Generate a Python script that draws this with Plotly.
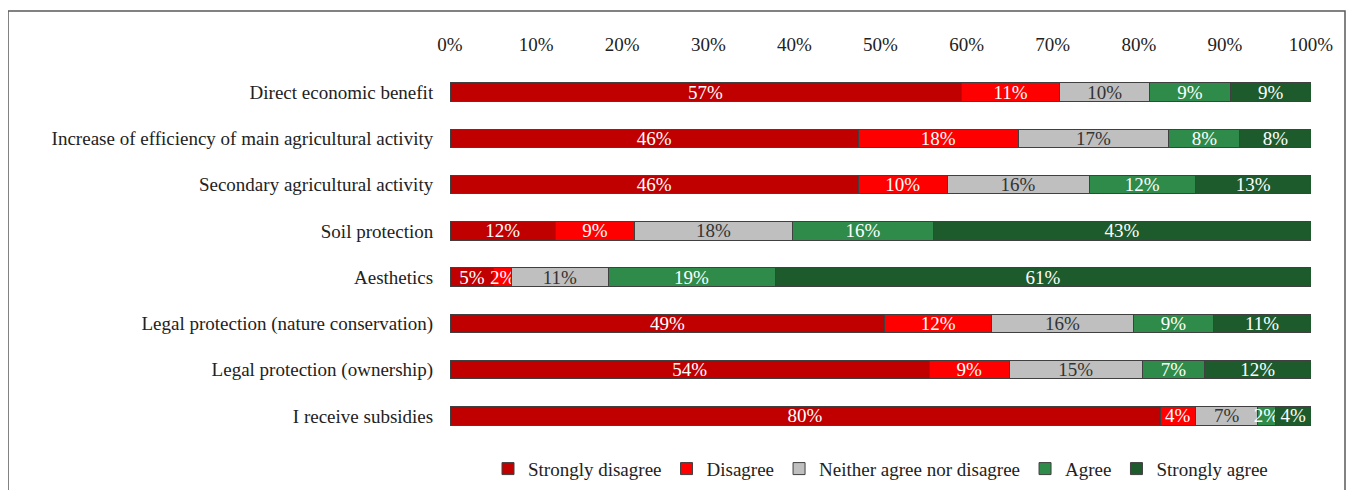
import plotly.graph_objects as go

categories = [
    "Direct economic benefit",
    "Increase of efficiency of main agricultural activity",
    "Secondary agricultural activity",
    "Soil protection",
    "Aesthetics",
    "Legal protection (nature conservation)",
    "Legal protection (ownership)",
    "I receive subsidies",
]
series_names = ["Strongly disagree", "Disagree", "Neither agree nor disagree", "Agree", "Strongly agree"]
strongly_disagree = [57, 46, 46, 12, 5, 49, 54, 80]
disagree = [11, 18, 10, 9, 2, 12, 9, 4]
neither = [10, 17, 16, 18, 11, 16, 15, 7]
agree = [9, 8, 12, 16, 19, 9, 7, 2]
strongly_agree = [9, 8, 13, 43, 61, 11, 12, 4]
tick_vals = [0, 10, 20, 30, 40, 50, 60, 70, 80, 90, 100]
tick_text = [f"{v}%" for v in tick_vals]

series_values = [strongly_disagree, disagree, neither, agree, strongly_agree]
colors = ["#C00000", "#FF0000", "#BFBFBF", "#2E8B4A", "#1E5B2C"]
text_colors = ["white", "white", "#333333", "white", "white"]

FONT = "Liberation Serif, Times New Roman, serif"
FS = 19

# page body has an 8px margin: figure coordinates = screen coordinates - 8
W, H = 1341, 482
L, T = 442, 61
PW, PH = 861, 370

fig = go.Figure()
for name, vals, col, tc in zip(series_names, series_values, colors, text_colors):
    fig.add_trace(go.Bar(
        y=categories, x=vals, name=name, orientation="h",
        marker=dict(color=col, line=dict(color="#404040", width=1)),
        text=[f"{v}%" for v in vals], textposition="inside",
        insidetextanchor="middle", textangle=0,
        textfont=dict(family=FONT, size=FS, color=tc),
        hoverinfo="skip",
    ))

fig.update_layout(
    barmode="stack", barnorm="percent", bargap=0.6,
    width=W, height=H,
    margin=dict(l=L, r=W - L - PW, t=T, b=H - T - PH, pad=0, autoexpand=False),
    paper_bgcolor="white", plot_bgcolor="white",
    font=dict(family=FONT, size=FS, color="#222222"),
    xaxis=dict(side="top", range=[0, 100], tickvals=tick_vals, ticktext=tick_text,
               showgrid=False, zeroline=False, showline=False,
               ticks="outside", ticklen=9, tickcolor="rgba(0,0,0,0)",
               tickfont=dict(family=FONT, size=FS, color="#222222")),
    yaxis=dict(categoryorder="array", categoryarray=categories[::-1],
               autorange=False, range=[-0.5, 7.5],
               showgrid=False, zeroline=False, showline=False,
               ticks="outside", ticklen=12, tickcolor="rgba(0,0,0,0)",
               tickfont=dict(family=FONT, size=FS, color="#222222")),
    legend=dict(orientation="h", x=0.5, xanchor="center", y=-0.029, yanchor="top",
                font=dict(family=FONT, size=FS, color="#222222"),
                traceorder="normal", itemwidth=30),
    showlegend=True,
    uniformtext=dict(minsize=FS - 2, mode="show"),
)

fig.add_shape(type="rect", xref="paper", yref="paper",
              x0=(0 - L) / PW, x1=(1337 - L) / PW,
              y0=-0.4, y1=1 + (T - 3) / PH,
              line=dict(color="#595959", width=1.5), fillcolor="rgba(0,0,0,0)",
              layer="below")

fig.write_html("out.html")
